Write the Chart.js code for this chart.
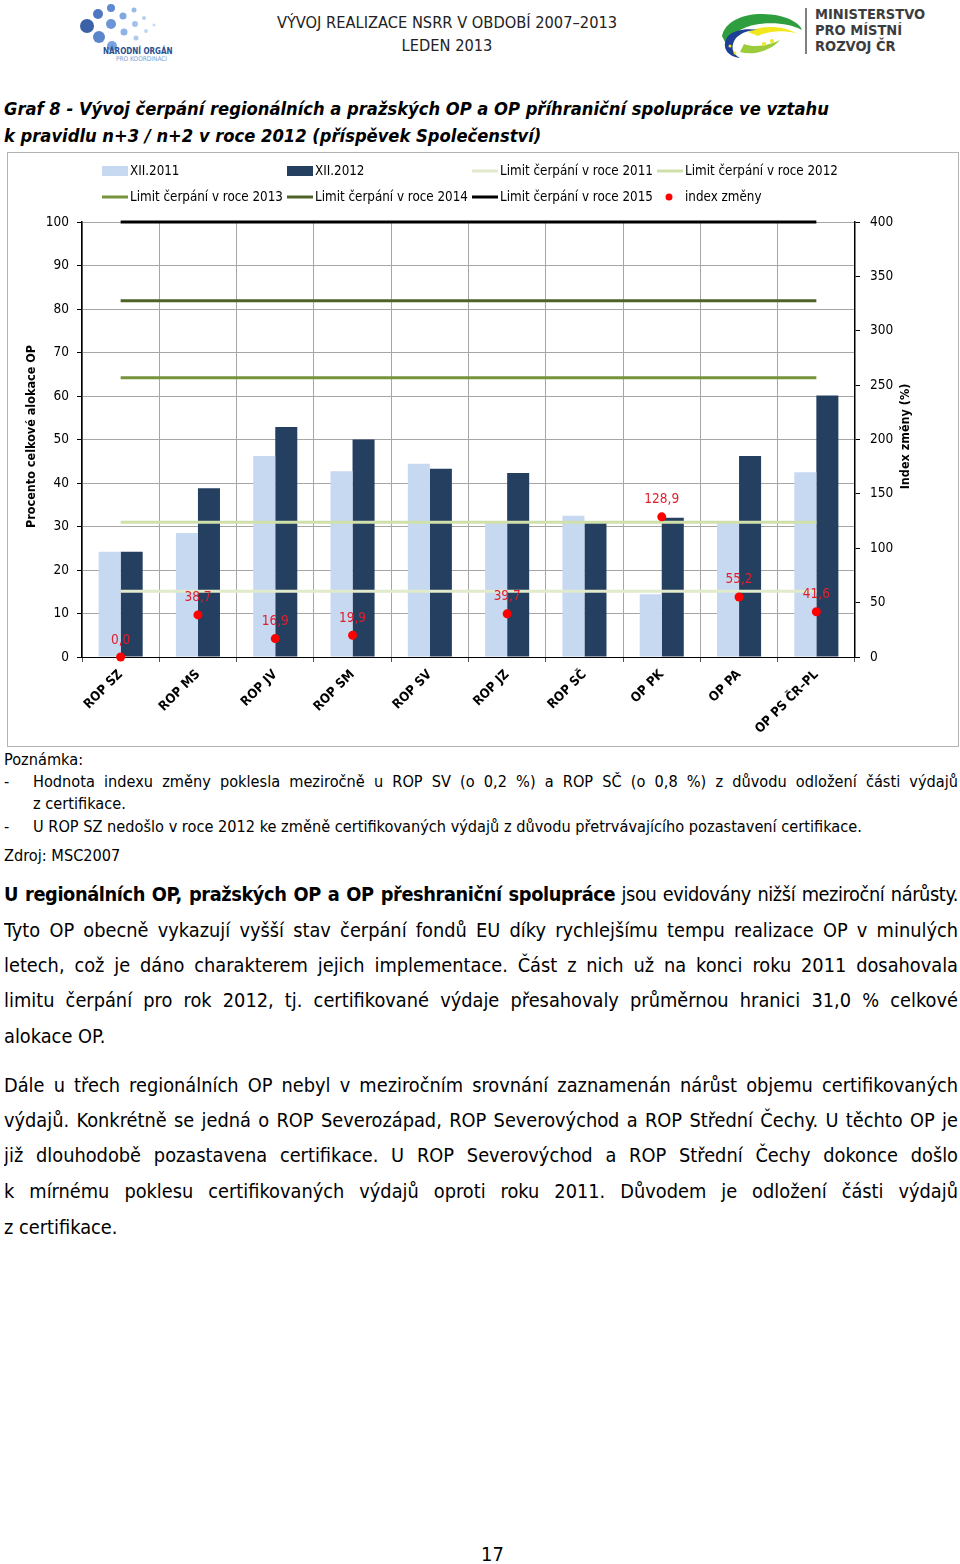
<!DOCTYPE html>
<html lang="cs">
<head>
<meta charset="utf-8">
<title>Graf 8 - Vývoj čerpání regionálních a pražských OP</title>
<script src="https://cdn.jsdelivr.net/npm/chart.js@4.4.1/dist/chart.umd.min.js"></script>
<style>
  body {
    margin: 0;
    width: 960px;
    height: 1564px;
    position: relative;
    overflow: hidden;
    background: #fff;
    color: #000;
    font-family: 'Liberation Sans Narrow', 'DejaVu Sans Condensed', Lato, sans-serif;
  }
  .abs { position: absolute; white-space: nowrap; }
  .hdr { left: 0; width: 894px; text-align: center; font-size: 16.3px; color: #222; }
  .title { left: 4px; font-size: 18.2px; font-weight: bold; font-style: italic; }
  .note { font-size: 16.2px; height: 22px; line-height: 22px; }
  .just { text-align: justify; text-align-last: justify; overflow: hidden; }
  .body { left: 4px; width: 954px; font-size: 19.8px; height: 36px; line-height: 36px; }
  .tight { letter-spacing: -0.4px; }
  #chartBox {
    position: absolute;
    left: 7px;
    top: 152px;
    width: 950px;
    height: 593px;
    border: 1px solid #b3b3b3;
  }
  #chartBox canvas { display: block; }
  .mmr { left: 815px; font-size: 14.5px; font-weight: bold; color: #3c3c3c; font-family: 'DejaVu Sans Condensed', 'Liberation Sans Narrow', sans-serif; }
</style>
</head>
<body>

<!-- header logos -->
<svg class="abs" style="left:78px;top:0" width="100" height="64">
  <circle cx="9" cy="26" r="7" fill="#3b62a8"/>
  <circle cx="20" cy="14" r="5" fill="#4d78bf"/>
  <circle cx="21" cy="37" r="6" fill="#5b86c9"/>
  <circle cx="33" cy="8" r="4" fill="#5f8ad0"/>
  <circle cx="33" cy="24" r="5" fill="#6b95d6"/>
  <circle cx="34" cy="46" r="5" fill="#7aa2dd"/>
  <circle cx="45" cy="16" r="3.5" fill="#80a7e0"/>
  <circle cx="46" cy="32" r="3.5" fill="#8fb3e6"/>
  <circle cx="56" cy="10" r="2.5" fill="#99bae9"/>
  <circle cx="57" cy="24" r="3" fill="#a4c2ec"/>
  <circle cx="58" cy="38" r="2.5" fill="#b0caef"/>
  <circle cx="66" cy="18" r="2" fill="#b8d0f0"/>
  <circle cx="68" cy="31" r="2" fill="#c2d7f2"/>
  <circle cx="76" cy="25" r="1.5" fill="#cadcf4"/>
  <text x="25" y="54" font-size="8" font-weight="bold" fill="#2a4f8f" font-family="DejaVu Sans Condensed, sans-serif">NÁRODNÍ ORGÁN</text>
  <text x="38" y="61" font-size="6.5" fill="#7d9fd2" font-family="DejaVu Sans Condensed, sans-serif">PRO KOORDINACI</text>
</svg>

<div class="abs hdr" style="top:13px">VÝVOJ REALIZACE NSRR V OBDOBÍ 2007–2013</div>
<div class="abs hdr" style="top:36px">LEDEN 2013</div>

<svg class="abs" style="left:718px;top:6px" width="92" height="54">
  <path d="M4 30 C 8 12, 34 4, 62 10 C 74 13, 82 18, 84 24 C 70 16, 40 14, 22 24 C 16 28, 12 32, 8 38 Z" fill="#2f9e3f"/>
  <path d="M30 26 C 46 18, 66 20, 80 28 C 70 24, 52 24, 40 30 Z" fill="#f2e61c"/>
  <path d="M10 30 C 4 38, 6 50, 22 52 C 14 48, 12 40, 18 32 C 24 26, 32 24, 40 24 C 28 22, 16 24, 10 30 Z" fill="#1d3f95"/>
  <path d="M22 46 C 36 50, 54 44, 62 34 C 50 40, 36 42, 26 38 Z" fill="#9ccc3c"/>
  <circle cx="12" cy="40" r="1.5" fill="#f5e12a"/>
  <circle cx="17" cy="47" r="1.5" fill="#f5e12a"/>
  <circle cx="46" cy="38" r="2" fill="#f2e61c"/>
  <circle cx="54" cy="35" r="2" fill="#f2e61c"/>
  <line x1="88" y1="2" x2="88" y2="48" stroke="#555" stroke-width="1.5"/>
</svg>
<div class="abs mmr" style="top:6px">MINISTERSTVO</div>
<div class="abs mmr" style="top:22px">PRO MÍSTNÍ</div>
<div class="abs mmr" style="top:38px">ROZVOJ ČR</div>

<div class="abs title" style="top:98px">Graf 8 - Vývoj čerpání regionálních a pražských OP a OP příhraniční spolupráce ve vztahu</div>
<div class="abs title" style="top:125px">k pravidlu n+3 / n+2 v roce 2012 (příspěvek Společenství)</div>

<div id="chartBox"><canvas id="myChart" width="950" height="593"></canvas></div>

<!-- notes -->
<div class="abs note" style="left:4px;top:749px">Poznámka:</div>
<div class="abs note" style="left:4px;top:771px">-</div>
<div class="abs note just" style="left:33px;width:925px;top:771px">Hodnota indexu změny poklesla meziročně u ROP SV (o 0,2 %) a ROP SČ (o 0,8 %) z důvodu odložení části výdajů</div>
<div class="abs note" style="left:33px;top:793px">z certifikace.</div>
<div class="abs note" style="left:4px;top:816px">-</div>
<div class="abs note" style="left:33px;top:816px">U ROP SZ nedošlo v roce 2012 ke změně certifikovaných výdajů z důvodu přetrvávajícího pozastavení certifikace.</div>
<div class="abs note" style="left:4px;top:845px">Zdroj: MSC2007</div>

<!-- body text -->
<div class="abs body just tight" style="top:877px"><b>U regionálních OP, pražských OP a OP přeshraniční spolupráce</b> jsou evidovány nižší meziroční nárůsty.</div>
<div class="abs body just" style="top:913px">Tyto OP obecně vykazují vyšší stav čerpání fondů EU díky rychlejšímu tempu realizace OP v minulých</div>
<div class="abs body just" style="top:948px">letech, což je dáno charakterem jejich implementace. Část z nich už na konci roku 2011 dosahovala</div>
<div class="abs body just" style="top:983px">limitu čerpání pro rok 2012, tj. certifikované výdaje přesahovaly průměrnou hranici 31,0 % celkové</div>
<div class="abs body" style="top:1019px">alokace OP.</div>

<div class="abs body just" style="top:1068px">Dále u třech regionálních OP nebyl v meziročním srovnání zaznamenán nárůst objemu certifikovaných</div>
<div class="abs body just" style="top:1103px">výdajů. Konkrétně se jedná o ROP Severozápad, ROP Severovýchod a ROP Střední Čechy. U těchto OP je</div>
<div class="abs body just" style="top:1138px">již dlouhodobě pozastavena certifikace. U ROP Severovýchod a ROP Střední Čechy dokonce došlo</div>
<div class="abs body just" style="top:1174px">k mírnému poklesu certifikovaných výdajů oproti roku 2011. Důvodem je odložení části výdajů</div>
<div class="abs body" style="top:1210px">z certifikace.</div>

<div class="abs" style="left:481px;top:1542px;font-size:20px">17</div>

<script>
'use strict';

// DATA

let categories = ['ROP SZ', 'ROP MS', 'ROP JV', 'ROP SM', 'ROP SV', 'ROP JZ', 'ROP SČ', 'OP PK', 'OP PA', 'OP PS ČR–PL'];

// procento celkové alokace OP
let xii2011 = [24.2, 28.5, 46.2, 42.7, 44.4, 31.0, 32.5, 14.4, 31.0, 42.5];
let xii2012 = [24.2, 38.8, 52.9, 50.0, 43.3, 42.3, 31.0, 32.0, 46.2, 60.1];

// limity čerpání (n+3 / n+2)
let limit2011 = [15.1, 15.1, 15.1, 15.1, 15.1, 15.1, 15.1, 15.1, 15.1, 15.1];
let limit2012 = [31.0, 31.0, 31.0, 31.0, 31.0, 31.0, 31.0, 31.0, 31.0, 31.0];
let limit2013 = [64.2, 64.2, 64.2, 64.2, 64.2, 64.2, 64.2, 64.2, 64.2, 64.2];
let limit2014 = [81.9, 81.9, 81.9, 81.9, 81.9, 81.9, 81.9, 81.9, 81.9, 81.9];
let limit2015 = [100, 100, 100, 100, 100, 100, 100, 100, 100, 100];

// index změny (%), pravá osa; ROP SV a ROP SČ pod nulou -> nezobrazeno
let indexZmeny = [0.0, 38.7, 16.9, 19.9, null, 39.7, null, 128.9, 55.2, 41.6];

let leftAxisMax = 100;
let leftAxisStep = 10;
let rightAxisMax = 400;
let rightAxisStep = 50;

// STYLE

let fontFamily = "'Liberation Sans Narrow', 'DejaVu Sans Condensed', Lato, sans-serif";
let gridColor = '#a6a6a6';
let labelRed = '#e0202e';

Chart.defaults.font.family = fontFamily;
Chart.defaults.color = '#000';

function makeLimit(label, data, color) {
  return {
    type: 'line',
    label: label,
    data: data,
    borderColor: color,
    backgroundColor: color,
    borderWidth: 3,
    pointRadius: 0,
    pointHoverRadius: 0,
    yAxisID: 'y',
    order: 1,
    clip: false
  };
}

// legend, axis titles and value labels drawn by hand (fixed 4-column legend)
let pageDecor = {
  id: 'pageDecor',
  afterDraw(chart) {
    let ctx = chart.ctx;
    let area = chart.chartArea;
    let datasets = chart.data.datasets;
    let colX = [94, 279, 464, 649];
    let rowY = [18, 44];

    ctx.save();
    ctx.font = '13.3px ' + fontFamily;
    ctx.textBaseline = 'middle';
    ctx.textAlign = 'left';
    for (let i = 0; i < datasets.length; i++) {
      let ds = datasets[i];
      let x = colX[i % 4];
      let y = rowY[Math.floor(i / 4)];
      if (ds.type === 'line' && ds.showLine === false) {
        ctx.fillStyle = ds.backgroundColor;
        ctx.beginPath();
        ctx.arc(x + 12, y, 3.5, 0, Math.PI * 2);
        ctx.fill();
      } else if (ds.type === 'line') {
        ctx.fillStyle = ds.borderColor;
        ctx.fillRect(x, y - 1.5, 26, 3);
      } else {
        ctx.fillStyle = ds.backgroundColor;
        ctx.fillRect(x, y - 5, 26, 10);
      }
      ctx.fillStyle = '#000';
      ctx.fillText(ds.label, x + 28, y + 1);
    }

    // axis titles
    let midY = (area.top + area.bottom) / 2;
    ctx.font = 'bold 12.5px ' + fontFamily;
    ctx.textAlign = 'center';
    ctx.save();
    ctx.translate(24, midY - 3);
    ctx.rotate(-Math.PI / 2);
    ctx.fillText('Procento celkové alokace OP', 0, 0);
    ctx.restore();
    ctx.save();
    ctx.translate(898, midY - 3);
    ctx.rotate(-Math.PI / 2);
    ctx.fillText('Index změny (%)', 0, 0);
    ctx.restore();

    // index labels
    let idx = datasets.length - 1;
    let meta = chart.getDatasetMeta(idx);
    ctx.font = '13.5px ' + fontFamily;
    ctx.fillStyle = labelRed;
    meta.data.forEach(function(pt, i) {
      let v = datasets[idx].data[i];
      if (v === null || v === undefined) {
        return;
      }
      ctx.fillText(v.toFixed(1).replace('.', ','), pt.x, pt.y - 17);
    });
    ctx.restore();
  }
};

let data = {
  labels: categories,
  datasets: [
    {
      type: 'bar',
      label: 'XII.2011',
      data: xii2011,
      backgroundColor: '#c6d9f1',
      yAxisID: 'y',
      order: 2
    },
    {
      type: 'bar',
      label: 'XII.2012',
      data: xii2012,
      backgroundColor: '#243f60',
      yAxisID: 'y',
      order: 2
    },
    makeLimit('Limit čerpání v roce 2011', limit2011, '#e1eacb'),
    makeLimit('Limit čerpání v roce 2012', limit2012, '#d0e0aa'),
    makeLimit('Limit čerpání v roce 2013', limit2013, '#77933c'),
    makeLimit('Limit čerpání v roce 2014', limit2014, '#4f6228'),
    makeLimit('Limit čerpání v roce 2015', limit2015, '#000000'),
    {
      type: 'line',
      label: 'index změny',
      data: indexZmeny,
      showLine: false,
      backgroundColor: '#ff0000',
      borderColor: '#ff0000',
      pointRadius: 4.5,
      pointHoverRadius: 4.5,
      pointBorderWidth: 0,
      yAxisID: 'y1',
      order: 0,
      clip: false
    }
  ]
};

let config = {
  type: 'bar',
  data: data,
  options: {
    responsive: false,
    animation: false,
    categoryPercentage: 0.57,
    barPercentage: 1.0,
    layout: { padding: { top: 69, left: 0, right: 0, bottom: 0 } },
    plugins: {
      legend: { display: false },
      tooltip: { enabled: false }
    },
    scales: {
      x: {
        offset: true,
        grid: { color: gridColor, tickLength: 5, tickColor: '#555', offset: true },
        border: { color: '#000', width: 1 },
        ticks: {
          font: { size: 13, weight: 'bold' },
          color: '#000',
          minRotation: 45,
          maxRotation: 45,
          autoSkip: false,
          padding: 5
        },
        afterFit: function(scale) { scale.height = 89; }
      },
      y: {
        position: 'left',
        min: 0,
        max: leftAxisMax,
        grid: { color: gridColor, tickLength: 5, tickColor: '#000' },
        border: { color: '#000', width: 1.5 },
        ticks: { stepSize: leftAxisStep, font: { size: 13.5 }, color: '#000', padding: 8 },
        afterFit: function(scale) { scale.width = 74; }
      },
      y1: {
        position: 'right',
        min: 0,
        max: rightAxisMax,
        grid: { drawOnChartArea: false, tickLength: 5, tickColor: '#000' },
        border: { color: '#000', width: 1.5 },
        ticks: { stepSize: rightAxisStep, font: { size: 13.5 }, color: '#000', padding: 10 },
        afterFit: function(scale) { scale.width = 103; }
      }
    }
  },
  plugins: [pageDecor]
};

let canvas = document.getElementById('myChart').getContext('2d');
new Chart(canvas, config);
</script>
</body>
</html>
